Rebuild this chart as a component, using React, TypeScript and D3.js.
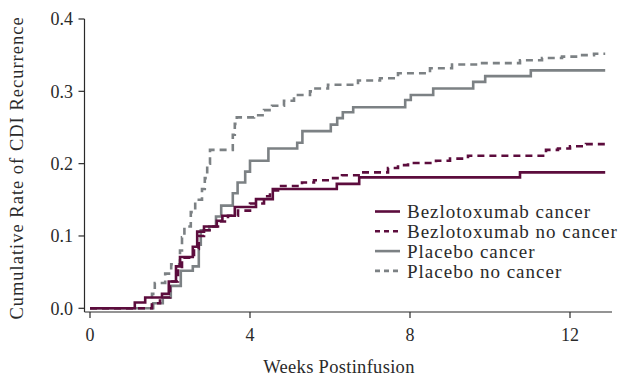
import { useEffect, useRef } from "react"
import * as d3 from "d3"

// Kaplan-Meier style cumulative recurrence (weeks, rate)
const bezloCancerT = [0, 1.12, 1.38, 1.8, 1.97, 2.15, 2.25, 2.57, 2.68, 2.85, 3.17, 3.31, 3.62, 4.15, 4.57, 6.17, 6.73, 10.75, 12.88]
const bezloCancerV = [0, 0.008, 0.015, 0.02, 0.037, 0.058, 0.071, 0.085, 0.106, 0.113, 0.121, 0.128, 0.14, 0.151, 0.165, 0.172, 0.181, 0.188, 0.188]

const bezloNoCancerT = [0, 1.55, 1.75, 2.0, 2.2, 2.3, 2.6, 2.72, 2.85, 3.05, 3.25, 3.45, 3.7, 4.0, 4.35, 4.5, 4.7, 5.3, 5.6, 6.0, 6.3, 6.8, 7.45, 7.7, 7.95, 8.65, 9.0, 9.45, 11.4, 11.7, 12.0, 12.4, 12.88]
const bezloNoCancerV = [0, 0.007, 0.015, 0.037, 0.055, 0.07, 0.082, 0.1, 0.108, 0.113, 0.12, 0.128, 0.135, 0.145, 0.155, 0.163, 0.169, 0.174, 0.177, 0.18, 0.184, 0.188, 0.194, 0.198, 0.201, 0.204, 0.207, 0.211, 0.219, 0.221, 0.224, 0.227, 0.227]

const placeboCancerT = [0, 1.58, 1.82, 2.02, 2.27, 2.57, 2.72, 2.77, 2.98, 3.15, 3.28, 3.57, 3.69, 3.88, 4.0, 4.46, 5.18, 5.31, 6.02, 6.18, 6.32, 6.58, 7.88, 8.02, 8.58, 9.58, 9.88, 11.02, 12.88]
const placeboCancerV = [0, 0.007, 0.015, 0.031, 0.052, 0.058, 0.088, 0.108, 0.113, 0.127, 0.142, 0.159, 0.174, 0.189, 0.204, 0.221, 0.229, 0.245, 0.254, 0.263, 0.271, 0.278, 0.288, 0.295, 0.304, 0.313, 0.321, 0.329, 0.329]

const placeboNoCancerT = [0, 1.55, 1.62, 1.88, 2.03, 2.25, 2.3, 2.36, 2.52, 2.63, 2.8, 2.87, 2.93, 3.0, 3.57, 3.62, 3.67, 4.1, 4.35, 4.55, 4.85, 5.1, 5.5, 5.6, 5.95, 6.7, 7.25, 7.7, 8.5, 9.05, 9.7, 10.75, 11.3, 11.8, 12.2, 12.6, 12.88]
const placeboNoCancerV = [0, 0.02, 0.035, 0.048, 0.061, 0.08, 0.098, 0.113, 0.133, 0.15, 0.165, 0.18, 0.2, 0.219, 0.24, 0.255, 0.264, 0.267, 0.274, 0.28, 0.287, 0.295, 0.3, 0.304, 0.309, 0.315, 0.318, 0.325, 0.332, 0.337, 0.339, 0.343, 0.346, 0.348, 0.35, 0.352, 0.352]

const seriesNames = ["Bezlotoxumab cancer", "Bezlotoxumab no cancer", "Placebo cancer", "Placebo no cancer"]
const xTicks = [0, 4, 8, 12]
const yTicks = [0, 0.1, 0.2, 0.3, 0.4]

const PURPLE = "#5c0c3d"
const GRAY = "#7c8184"
const INK = "#2a2a2a"
const FONT = "'Liberation Serif', 'Times New Roman', serif"

export default function App() {
  const ref = useRef<SVGSVGElement>(null)

  useEffect(() => {
    if (!ref.current) return
    const svg = d3.select(ref.current)
    svg.selectAll("*").remove()

    const W = 621
    const H = 379
    const x = d3.scaleLinear().domain([0, 12]).range([90, 570])
    const y = d3.scaleLinear().domain([0, 0.4]).range([308.3, 19])
    const axisX0 = 84.5
    const axisY0 = 312

    svg.attr("width", W).attr("height", H)

    const series = [
      { t: bezloCancerT, v: bezloCancerV, color: PURPLE, dash: null },
      { t: bezloNoCancerT, v: bezloNoCancerV, color: PURPLE, dash: "7 5" },
      { t: placeboCancerT, v: placeboCancerV, color: GRAY, dash: null },
      { t: placeboNoCancerT, v: placeboNoCancerV, color: GRAY, dash: "7 5" },
    ]

    const line = d3
      .line<[number, number]>()
      .x((d) => x(d[0]))
      .y((d) => y(d[1]))
      .curve(d3.curveStepAfter)

    // draw placebo first so bezlotoxumab sits on top, like the original
    const order = [3, 2, 1, 0]
    order.forEach((i) => {
      const s = series[i]
      const pts = s.t.map((t, k) => [t, s.v[k]] as [number, number])
      svg
        .append("path")
        .attr("d", line(pts))
        .attr("fill", "none")
        .attr("stroke", s.color)
        .attr("stroke-width", 2.6)
        .attr("stroke-dasharray", s.dash)
    })

    // Axes
    svg
      .append("line")
      .attr("x1", axisX0)
      .attr("x2", axisX0)
      .attr("y1", y(0.4))
      .attr("y2", axisY0)
      .attr("stroke", INK)
      .attr("stroke-width", 1.2)
    svg
      .append("line")
      .attr("x1", axisX0)
      .attr("x2", x(13.05))
      .attr("y1", axisY0)
      .attr("y2", axisY0)
      .attr("stroke", INK)
      .attr("stroke-width", 1.2)

    yTicks.forEach((t) => {
      svg
        .append("line")
        .attr("x1", axisX0 - 6)
        .attr("x2", axisX0)
        .attr("y1", y(t))
        .attr("y2", y(t))
        .attr("stroke", INK)
        .attr("stroke-width", 1.2)
      svg
        .append("text")
        .attr("x", 73)
        .attr("y", y(t))
        .attr("dy", "0.35em")
        .attr("text-anchor", "end")
        .attr("font-family", FONT)
        .attr("font-size", 18)
        .attr("fill", INK)
        .text(t.toFixed(1))
    })

    xTicks.forEach((t) => {
      svg
        .append("line")
        .attr("x1", x(t))
        .attr("x2", x(t))
        .attr("y1", axisY0)
        .attr("y2", axisY0 + 6)
        .attr("stroke", INK)
        .attr("stroke-width", 1.2)
      svg
        .append("text")
        .attr("x", x(t))
        .attr("y", 341)
        .attr("text-anchor", "middle")
        .attr("font-family", FONT)
        .attr("font-size", 18)
        .attr("fill", INK)
        .text(String(t))
    })

    // Axis titles
    svg
      .append("text")
      .attr("x", 339)
      .attr("y", 373)
      .attr("text-anchor", "middle")
      .attr("font-family", FONT)
      .attr("font-size", 18.5)
      .attr("letter-spacing", 0.3)
      .attr("fill", INK)
      .text("Weeks Postinfusion")

    svg
      .append("text")
      .attr("transform", `translate(23, 168) rotate(-90)`)
      .attr("text-anchor", "middle")
      .attr("font-family", FONT)
      .attr("font-size", 18.5)
      .attr("letter-spacing", 1)
      .attr("fill", INK)
      .text("Cumulative Rate of CDI Recurrence")

    // Legend
    const legend = svg.append("g").attr("transform", "translate(375, 211.5)")
    seriesNames.forEach((name, i) => {
      const s = series[i]
      const row = legend.append("g").attr("transform", `translate(0, ${i * 19.8})`)
      row
        .append("line")
        .attr("x1", 0)
        .attr("x2", 25)
        .attr("y1", 0)
        .attr("y2", 0)
        .attr("stroke", s.color)
        .attr("stroke-width", 2.6)
        .attr("stroke-dasharray", s.dash ? "5 4" : null)
      row
        .append("text")
        .attr("x", 32)
        .attr("y", 0)
        .attr("dy", "0.35em")
        .attr("font-family", FONT)
        .attr("font-size", 19)
        .attr("letter-spacing", 1)
        .attr("fill", INK)
        .text(name)
    })
  }, [])

  return (
    <div style={{ position: "absolute", left: 0, top: 0, background: "#fff" }}>
      <svg ref={ref} style={{ display: "block" }} />
    </div>
  )
}
